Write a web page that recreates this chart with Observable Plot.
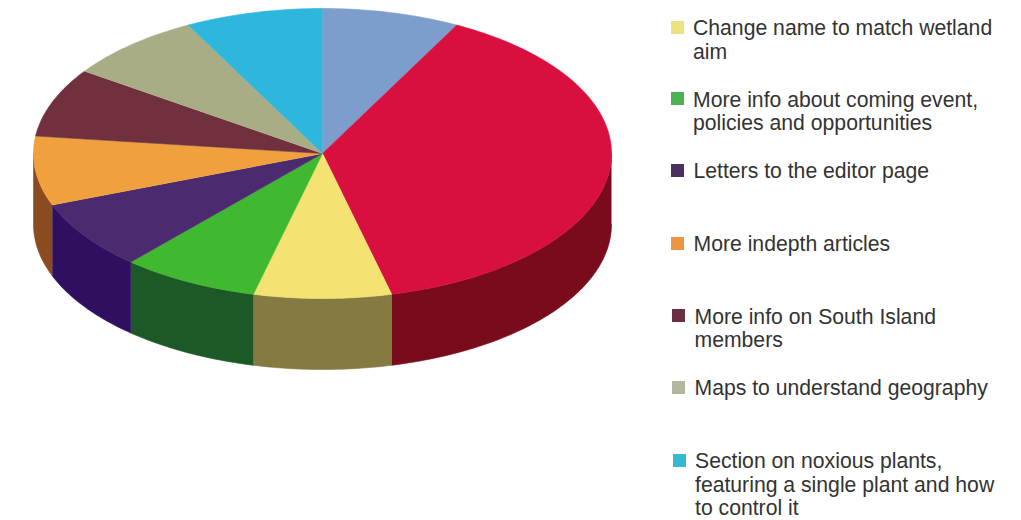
<!DOCTYPE html>
<html>
<head>
<meta charset="utf-8">
<script src="https://cdn.jsdelivr.net/npm/d3@7"></script>
<script src="https://cdn.jsdelivr.net/npm/@observablehq/plot@0.6"></script>
<style>
  html, body { margin: 0; background: #fff; }
  #page { position: relative; width: 1021px; height: 520px; overflow: hidden; }
  #chart { position: absolute; left: 0; top: 0; }
  .row { position: absolute; font: 21.2px/23.5px "Liberation Sans", Arial, sans-serif; color: #333; white-space: pre; }
  .swatch { position: absolute; width: 13px; height: 13px; left: -22.5px; top: 4.5px; }
</style>
</head>
<body>
<div id="page"><div id="chart"></div></div>
<script>
// Wishlist responses, clockwise from twelve o'clock
const slices = ["Unlisted A", "Unlisted B", "Change name", "More info", "Letters", "Indepth articles", "South Island", "Maps", "Noxious plants"];
const responses = [1, 5, 1, 1, 1, 1, 1, 1, 1];
const topColors = ["#7d9dcd", "#d9103f", "#f4e272", "#40b82f", "#4b2a70", "#f0a13e", "#70303e", "#a9ad86", "#2eb6dc"];
const sideColors = ["#50688a", "#7a0b1d", "#857a42", "#1d5927", "#2e0f60", "#8b4b20", "#4a1c26", "#6b6d54", "#1c7590"];

const legendLabels = [
  "Change name to match wetland\naim",
  "More info about coming event,\npolicies and opportunities",
  "Letters to the editor page",
  "More indepth articles",
  "More info on South Island\nmembers",
  "Maps to understand geography",
  "Section on noxious plants,\nfeaturing a single plant and how\nto control it"
];
const legendColors = ["#ebe37f", "#4cb354", "#49305f", "#ee9444", "#6a3040", "#b4b6a0", "#35b8d2"];

// Layout of the tilted disc: pixels per unit, and wall height in y units
const width = 1021, height = 520;
const cx = 322, cy = 153, rx = 289, ry = 145, depth = 71 / ry;

// Turn the responses into angular extents on the disc
const total = d3.sum(responses);
const arcs = [];
let running = 0;
responses.forEach((v, i) => {
  const a0 = running / total * 360;
  running += v;
  arcs.push({slice: slices[i], a0, a1: running / total * 360, top: topColors[i], side: sideColors[i]});
});

const rim = (a, drop = 0) => {
  const t = a * Math.PI / 180;
  return {x: Math.sin(t), y: Math.cos(t) - drop};
};
const sweep = (a0, a1) => {
  const n = Math.max(2, Math.ceil(a1 - a0));
  return d3.range(n + 1).map(k => a0 + (a1 - a0) * k / n);
};

// Upper faces: wedge from the hub round the rim
const topFaces = arcs.flatMap(d =>
  [{x: 0, y: 0}, ...sweep(d.a0, d.a1).map(a => rim(a))].map(p => ({...p, slice: d.slice, color: d.top}))
);

// Outer wall: only the part of each wedge that faces the viewer
const sideFaces = arcs.flatMap(d => {
  const a0 = Math.max(d.a0, 90), a1 = Math.min(d.a1, 270);
  if (a1 <= a0) return [];
  const angles = sweep(a0, a1);
  return [...angles.map(a => rim(a)), ...angles.slice().reverse().map(a => rim(a, depth))]
    .map(p => ({...p, slice: d.slice, color: d.side}));
});

const plot = Plot.plot({
  width, height, margin: 0,
  x: {domain: [-cx / rx, (width - cx) / rx], range: [0, width], axis: null},
  y: {domain: [(cy - height) / ry, cy / ry], range: [height, 0], axis: null},
  color: {type: "identity"},
  marks: [
    Plot.line(sideFaces, {x: "x", y: "y", z: "slice", fill: "color", stroke: "color", strokeWidth: 0.6}),
    Plot.line(topFaces, {x: "x", y: "y", z: "slice", fill: "color", stroke: "color", strokeWidth: 0.6})
  ]
});
document.getElementById("chart").append(plot);

// Legend rows sit to the right of the disc
const rowTops = [16, 87.5, 159, 232, 304.5, 376, 449];
const rowLefts = [693, 693, 693.5, 693.5, 694.5, 694.5, 695];
const page = document.getElementById("page");
legendLabels.forEach((label, i) => {
  const row = document.createElement("div");
  row.className = "row";
  row.style.left = rowLefts[i] + "px";
  row.style.top = rowTops[i] + "px";
  row.textContent = label;
  const swatch = document.createElement("span");
  swatch.className = "swatch";
  swatch.style.background = legendColors[i];
  row.append(swatch);
  page.append(row);
});
</script>
</body>
</html>
